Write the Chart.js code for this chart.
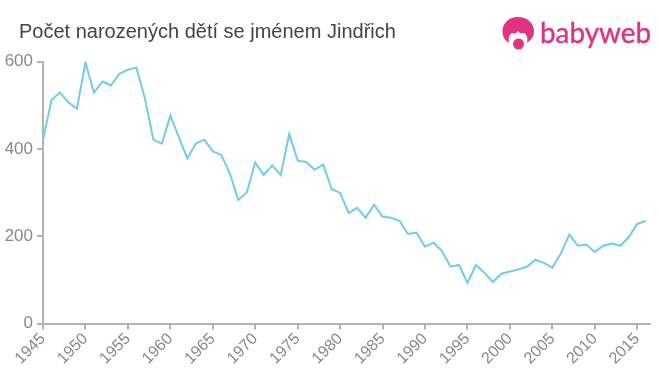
<!DOCTYPE html>
<html lang="cs">

<head>
  <meta charset="UTF-8">
  <title>Počet narozených dětí se jménem Jindřich</title>
  <script src="https://cdn.jsdelivr.net/npm/chart.js"></script>
  <style>
    html, body {
      margin: 0;
      padding: 0;
      background: #fff;
      overflow: hidden;
    }

    .chart-container {
      position: absolute;
      left: 0;
      top: 0;
      width: 660px;
      height: 375px;
    }

    #chartTitle {
      position: absolute;
      left: 19px;
      top: 19px;
      margin: 0;
      font: 400 20px/24px "Liberation Sans", Arial, sans-serif;
      color: #444;
      white-space: nowrap;
    }

    #logo {
      position: absolute;
      left: 490px;
      top: 5px;
    }
  </style>
</head>

<body>
  <div class="chart-container">
    <canvas id="chartCanvas" width="660" height="375"></canvas>
  </div>
  <h1 id="chartTitle">Počet narozených dětí se jménem Jindřich</h1>

  <svg id="logo" width="170" height="55" viewBox="0 0 170 55">
    <path d="M28 12 C18 12 12.500 19 12.500 26 C12.500 32 15 35 19 38 C18 33 19 30 22 28 C25 29 27 28 28 26 C29 28 31 29 34 28 C37 30 38 33 37 38 C41 35 44 32 44 26 C44 19 38 12 28 12 Z" fill="#e0327f"/>
    <circle cx="28.500" cy="39" r="5.500" fill="#e0327f"/>
    <text x="50" y="38" font-family="Lato, 'Noto Sans', sans-serif" font-size="28" fill="#e0327f" stroke="#e0327f" stroke-width="0.4" textLength="111" lengthAdjust="spacingAndGlyphs">babyweb</text>
  </svg>

  <script>
    const years = [
      1945, 1946, 1947, 1948, 1949, 1950, 1951, 1952, 1953, 1954,
      1955, 1956, 1957, 1958, 1959, 1960, 1961, 1962, 1963, 1964,
      1965, 1966, 1967, 1968, 1969, 1970, 1971, 1972, 1973, 1974,
      1975, 1976, 1977, 1978, 1979, 1980, 1981, 1982, 1983, 1984,
      1985, 1986, 1987, 1988, 1989, 1990, 1991, 1992, 1993, 1994,
      1995, 1996, 1997, 1998, 1999, 2000, 2001, 2002, 2003, 2004,
      2005, 2006, 2007, 2008, 2009, 2010, 2011, 2012, 2013, 2014,
      2015, 2016
    ];
    const births = [
      420, 512, 529, 506, 492, 598, 529, 554, 545, 572,
      581, 586, 516, 421, 412, 476, 427, 378, 412, 421,
      394, 386, 344, 283, 300, 369, 340, 362, 340, 434,
      373, 370, 352, 364, 308, 299, 253, 265, 242, 272,
      245, 242, 235, 205, 208, 176, 185, 166, 130, 134,
      93, 134, 116, 95, 114, 119, 124, 130, 146, 139,
      128, 160, 204, 178, 181, 164, 178, 183, 178, 198,
      228, 235
    ];

    const points = years.map((year, i) => ({ x: year, y: births[i] }));
    const axisColor = "#b3b3b3";
    const tickColor = "#888";
    const fontFamily = '"Liberation Sans", Arial, sans-serif';

    new Chart(document.getElementById("chartCanvas").getContext("2d"), {
      type: "line",
      data: {
        datasets: [{
          data: points,
          borderColor: "#6fcdeb",
          borderWidth: 2,
          pointRadius: 0,
          fill: false,
          tension: 0
        }]
      },
      options: {
        responsive: false,
        animation: false,
        layout: { autoPadding: false, padding: { top: 61.5, right: 10, left: 0, bottom: 0 } },
        plugins: { legend: { display: false }, title: { display: false }, tooltip: { enabled: false } },
        scales: {
          x: {
            type: "linear",
            min: 1945,
            max: 2016.5,
            afterFit: (scale) => { scale.height = 51.5; },
            grid: { drawOnChartArea: false, color: axisColor, tickLength: 6, lineWidth: 2 },
            border: { color: axisColor, width: 2 },
            ticks: {
              stepSize: 5,
              includeBounds: false,
              color: tickColor,
              font: { family: fontFamily, size: 16 },
              padding: 0,
              maxRotation: 45,
              minRotation: 45,
              callback: (value) => String(value)
            }
          },
          y: {
            min: 0,
            max: 600,
            afterFit: (scale) => { scale.width = 43; },
            grid: { drawOnChartArea: false, color: axisColor, tickLength: 6, lineWidth: 2 },
            border: { color: axisColor, width: 2 },
            ticks: {
              stepSize: 200,
              color: tickColor,
              font: { family: fontFamily, size: 17 },
              padding: 4
            }
          }
        }
      }
    });
  </script>
</body>

</html>
